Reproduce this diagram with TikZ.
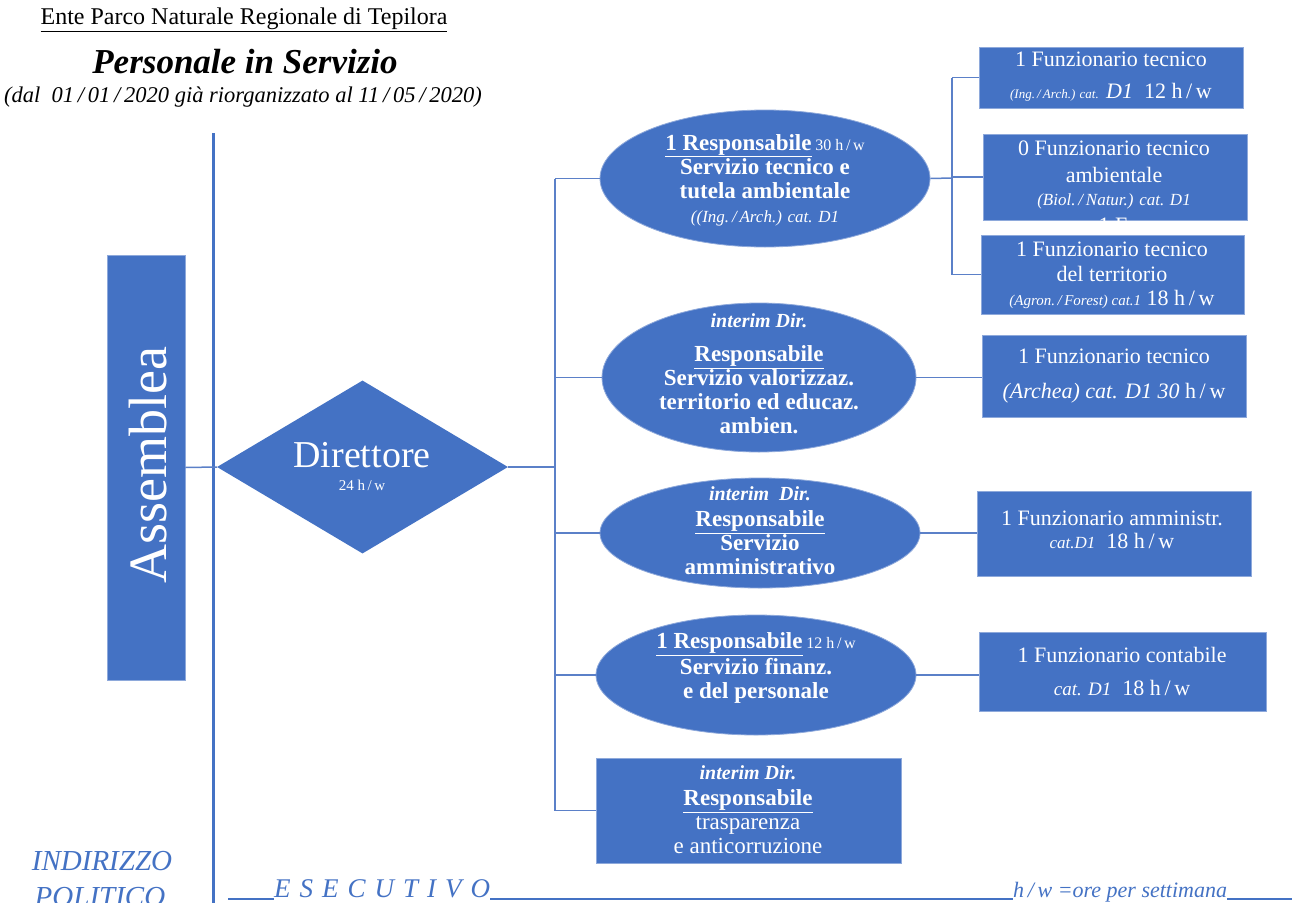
\documentclass[tikz,border=0pt]{standalone}
\usepackage{fontspec}
\setmainfont{Liberation Serif}
\usetikzlibrary{shapes.geometric}
\definecolor{pblue}{HTML}{4472C4}
\definecolor{lblue}{HTML}{5B80C8}
\definecolor{bordblue}{HTML}{8EA9DB}
\newcommand{\fs}[2]{\fontsize{#1}{#2}\selectfont}
\newcommand{\hw}{h\,/\,w}
\tikzset{
  shp/.style={fill=pblue, draw=bordblue, line width=0.8pt},
  ell/.style={shp, ellipse, inner sep=0pt},
  box/.style={shp, rectangle, inner sep=0pt},
  wtb/.style={text=white, align=center, font=\bfseries\fs{23}{24}, inner sep=0pt},
  wtr/.style={text=white, align=center, font=\fs{22}{27}, inner sep=0pt},
  conn/.style={draw=lblue, line width=1.5pt},
  mainline/.style={draw=pblue, line width=3pt},
  bluetxt/.style={text=pblue, inner sep=0pt}
}
\begin{document}
\begin{tikzpicture}[x=1pt,y=-1pt]
\useasboundingbox[fill=white] (0,0) rectangle (1292,902);

% titles
\node[inner sep=0pt, font=\fs{24}{26}] (t1) at (244,20) {\underline{Ente Parco Naturale Regionale di Tepilora}};
\node[inner sep=0pt, font=\bfseries\itshape\fs{35}{37}] (t2) at (245,62) {Personale in Servizio};
\node[inner sep=0pt, font=\itshape\fs{22.5}{24}] (t3) at (243,97) {(dal \ 01\,/\,01\,/\,2020 già riorganizzato al 11\,/\,05\,/\,2020)};

% main vertical line
\coordinate (vtop) at (213,133);
\coordinate (vbot) at (213,905);
\draw[mainline] (vtop) -- (vbot);

% Assemblea
\node[box, minimum width=78pt, minimum height=425pt] (ass) at (146,467.5) {};
\node[text=white, rotate=90, inner sep=0pt, font=\fs{54}{56}] (asst) at (148,465) {Assemblea};

% Direttore diamond
\node[diamond, fill=pblue, draw=none, minimum width=291pt, minimum height=173pt, inner sep=0pt] (dir) at (362.5,467) {};
\node[text=white, inner sep=0pt, anchor=base, font=\fs{38}{40}] (dirt) at (362,467) {Direttore};
\node[text=white, inner sep=0pt, anchor=base, font=\fs{15}{16}] (dirh) at (362,490) {24 \hw};

\draw[conn] (ass.east) -- (dir.west);

% trunk
\coordinate (tr) at (555,467);
\draw[conn] (dir.east) -- (tr);

% ellipses
\node[ell, minimum width=330pt, minimum height=137pt] (e1) at (765,178.5) {};
\node[ell, minimum width=314pt, minimum height=149pt] (e2) at (759,377.5) {};
\node[ell, minimum width=320pt, minimum height=110pt] (e3) at (760,533) {};
\node[ell, minimum width=320pt, minimum height=120pt] (e4) at (756,675) {};
\node[box, minimum width=305pt, minimum height=105pt] (r5) at (748.5,810.5) {};

\draw[conn] (e1.west -| tr) -- (r5.west -| tr);
\foreach \n in {e1,e2,e3,e4,r5} { \draw[conn] (\n.west -| tr) -- (\n.west); }

\node[wtb] (e1t) at (765,180) {\underline{1 Responsabile}\,{\mdseries\fs{16}{16}30 \hw}\\ Servizio tecnico e\\ tutela ambientale\\ {\mdseries\itshape\fs{17}{22}((Ing.\,/\,Arch.) cat. D1}};
\node[wtb] (e2t) at (759,374) {{\itshape\fs{20}{20}interim Dir.}\\[10pt] \underline{Responsabile}\\ Servizio valorizzaz.\\ territorio ed educaz.\\ ambien.};
\node[wtb] (e3t) at (760,531) {{\itshape\fs{20}{20}interim \ Dir.}\\[2pt] \underline{Responsabile}\\ Servizio\\ amministrativo};
\node[wtb] (e4t) at (756,668) {\underline{1 Responsabile}\,{\mdseries\fs{16}{16}12 \hw}\\[2pt] Servizio finanz.\\ e del personale};
\node[wtb] (r5t) at (748,810) {{\itshape\fs{20}{20}interim Dir.}\\[2pt] \underline{Responsabile}\\ {\mdseries trasparenza}\\ {\mdseries e anticorruzione}};

% right boxes
\node[box, minimum width=264pt, minimum height=61pt] (fa) at (1111.5,77.5) {};
\node[box, minimum width=264pt, minimum height=86pt] (fb) at (1115,177) {};
\node[box, minimum width=263pt, minimum height=79pt] (fc) at (1112.5,274.5) {};
\node[box, minimum width=264pt, minimum height=82pt] (fd) at (1114,376) {};
\node[box, minimum width=274pt, minimum height=85pt] (fe) at (1114,533.5) {};
\node[box, minimum width=287pt, minimum height=79pt] (ff) at (1122.5,671.5) {};

\coordinate (bk) at (952,178);
\draw[conn] (e1.east) -- (bk);
\draw[conn] (fa.west -| bk) -- (fc.west -| bk);
\foreach \n in {fa,fb,fc} { \draw[conn] (\n.west -| bk) -- (\n.west); }
\draw[conn] (e2.east) -- (e2.east -| fd.west);
\draw[conn] (e3.east) -- (e3.east -| fe.west);
\draw[conn] (e4.east) -- (e4.east -| ff.west);

\node[wtr] (fat) at (1111,77) {1 Funzionario tecnico\\[5pt] {\itshape\fs{13}{14}(Ing.\,/\,Arch.) cat.} {\itshape D1}\ \ 12 \hw};
\node[wtr] (fbt) at (1114,175) {0 Funzionario tecnico\\ ambientale\\[-4pt] {\itshape\fs{17}{20}(Biol.\,/\,Natur.) cat. D1}};
\begin{scope}
  \clip (fb.south west) rectangle (fb.north east);
  \node[wtr, anchor=base] (fbx) at (1113,232) {1 F};
\end{scope}
\node[wtr] (fct) at (1112,275) {1 Funzionario tecnico\\[-2pt] del territorio\\[-3pt] {\itshape\fs{15}{18}(Agron.\,/\,Forest) cat.1} 18 \hw};
\node[wtr] (fdt) at (1114,376) {1 Funzionario tecnico\\[8pt] {\itshape (Archea) cat. D1 30} \hw};
\node[wtr] (fet) at (1112,530) {1 Funzionario amministr.\\[-4pt] {\itshape\fs{17}{20}cat.D1}\ \ 18 \hw};
\node[wtr] (fft) at (1122,671) {1 Funzionario contabile\\[6pt] {\itshape\fs{19}{20}cat. D1}\ \ 18 \hw};

% bottom labels
\node[bluetxt, font=\itshape\fs{29}{35}, anchor=base] (ip1) at (102,870) {INDIRIZZO};
\node[bluetxt, font=\itshape\fs{29}{35}, anchor=base] (ip2) at (100,906) {POLITICO};
\node[bluetxt, font=\itshape\fs{27}{28}, anchor=base west] (ese) at (274,897) {E\,\,S\,\,E\,\,C\,\,U\,\,T\,\,I\,\,V\,\,O};
\node[bluetxt, font=\itshape\fs{22}{24}, anchor=base west] (hwl) at (1013,897) {h\,/\,w =ore per settimana};
\coordinate (u1a) at (228,899);
\draw[draw=pblue, line width=1.3pt] (u1a) -- (ese.base west |- u1a);
\draw[draw=pblue, line width=1.3pt] (ese.base east |- u1a) -- (hwl.base west |- u1a);
\draw[draw=pblue, line width=1.3pt] (hwl.base east |- u1a) -- (1292,899);
\end{tikzpicture}
\end{document}
